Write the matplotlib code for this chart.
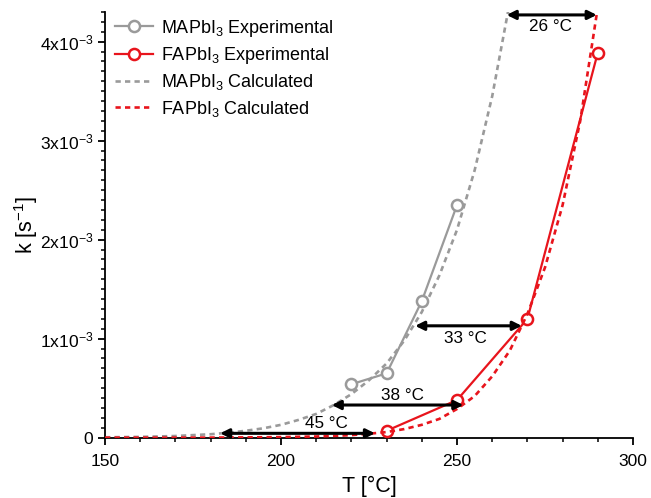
import matplotlib
matplotlib.use("Agg")
import matplotlib.pyplot as plt
from matplotlib.ticker import MultipleLocator, FuncFormatter

plt.rcParams['font.family'] = ['Liberation Sans', 'DejaVu Sans']
plt.rcParams['mathtext.default'] = 'regular'

# experimental points (T in degC, k in s^-1)
ma_exp_T = [220, 230, 240, 250]
ma_exp_k = [0.54e-3, 0.65e-3, 1.38e-3, 2.35e-3]
fa_exp_T = [230, 250, 270, 290]
fa_exp_k = [0.07e-3, 0.38e-3, 1.20e-3, 3.89e-3]

# calculated curves
ma_calc_T = [150, 160, 170, 180, 185, 190, 195, 200, 205, 210, 215, 220, 225,
             230, 235, 240, 245, 250, 255, 260, 265]
ma_calc_k = [0.004e-3, 0.008e-3, 0.017e-3, 0.035e-3, 0.05e-3, 0.07e-3, 0.095e-3,
             0.13e-3, 0.18e-3, 0.24e-3, 0.33e-3, 0.44e-3, 0.58e-3, 0.75e-3,
             0.98e-3, 1.27e-3, 1.64e-3, 2.10e-3, 2.70e-3, 3.45e-3, 4.40e-3]
fa_calc_T = [150, 170, 180, 190, 200, 210, 215, 220, 225, 230, 235, 240, 245,
             250, 255, 260, 265, 270, 275, 280, 285, 290, 292]
fa_calc_k = [0.0001e-3, 0.0005e-3, 0.001e-3, 0.003e-3, 0.006e-3, 0.012e-3,
             0.018e-3, 0.026e-3, 0.04e-3, 0.057e-3, 0.087e-3, 0.13e-3, 0.19e-3,
             0.29e-3, 0.42e-3, 0.62e-3, 0.88e-3, 1.25e-3, 1.72e-3, 2.35e-3,
             3.20e-3, 4.35e-3, 4.90e-3]

# temperature-shift arrows: k level, T left, T right, label, label position
arrow_k = [4.27e-3, 1.13e-3, 0.33e-3, 0.044e-3]
arrow_T1 = [264.1, 238.1, 214.4, 182.7]
arrow_T2 = [289.7, 268.4, 251.8, 226.7]
arrow_lbl = ['26 °C', '33 °C', '38 °C', '45 °C']
lbl_T = [276.5, 252.5, 234.5, 213.0]
lbl_k = [4.15e-3, 1.00e-3, 0.43e-3, 0.14e-3]

gray = '#9a9a9a'
red = '#e8141c'

fig = plt.figure(figsize=(6.51, 4.98), dpi=100)
ax = fig.add_axes([0.1613, 0.1211, 0.8111, 0.8549])

ax.plot(ma_exp_T, ma_exp_k, '-o', color=gray, lw=1.6, ms=8, mew=1.8,
        mfc='white', mec=gray, label='MAPbI$_3$ Experimental', zorder=3)
ax.plot(fa_exp_T, fa_exp_k, '-o', color=red, lw=1.6, ms=8, mew=1.8,
        mfc='white', mec=red, label='FAPbI$_3$ Experimental', zorder=4)
ax.plot(ma_calc_T, ma_calc_k, '--', color=gray, lw=1.9, dashes=(2, 1.6),
        label='MAPbI$_3$ Calculated', zorder=2)
ax.plot(fa_calc_T, fa_calc_k, '--', color=red, lw=1.9, dashes=(2, 1.6),
        label='FAPbI$_3$ Calculated', zorder=5)

for k, t1, t2, s, tx, ty in zip(arrow_k, arrow_T1, arrow_T2, arrow_lbl, lbl_T, lbl_k):
    ax.annotate('', xy=(t2, k), xytext=(t1, k),
                arrowprops=dict(arrowstyle='<|-|>', color='black', lw=2.2,
                                mutation_scale=13, shrinkA=0, shrinkB=0),
                zorder=6)
    ax.text(tx, ty, s, ha='center', va='center', fontsize=12.3, zorder=7)

ax.set_xlim(150, 300)
ax.set_ylim(0, 4.3e-3)
ax.xaxis.set_major_locator(MultipleLocator(50))
ax.xaxis.set_minor_locator(MultipleLocator(10))
ax.yaxis.set_major_locator(MultipleLocator(1e-3))
ax.yaxis.set_minor_locator(MultipleLocator(1e-4))

def kfmt(v, pos):
    n = int(round(v * 1e3))
    return '0' if n == 0 else '%dx10$^{-3}$' % n

ax.yaxis.set_major_formatter(FuncFormatter(kfmt))

for side in ['top', 'right']:
    ax.spines[side].set_visible(False)
for side in ['left', 'bottom']:
    ax.spines[side].set_linewidth(1.3)
ax.tick_params(which='major', direction='out', length=5, width=1.3, labelsize=12.6)
ax.tick_params(axis='x', which='major', pad=7)
ax.tick_params(which='minor', direction='out', length=3, width=1.1)

ax.set_xlabel('T [°C]', fontsize=15.5, labelpad=5)
ax.set_ylabel('k [s$^{-1}$]', fontsize=15.5, labelpad=0)

ax.legend(loc='upper left', bbox_to_anchor=(-0.012, 1.025), frameon=False,
          fontsize=13, handlelength=2.1, handletextpad=0.45, labelspacing=0.35)

fig.savefig('out.png', dpi=100)
